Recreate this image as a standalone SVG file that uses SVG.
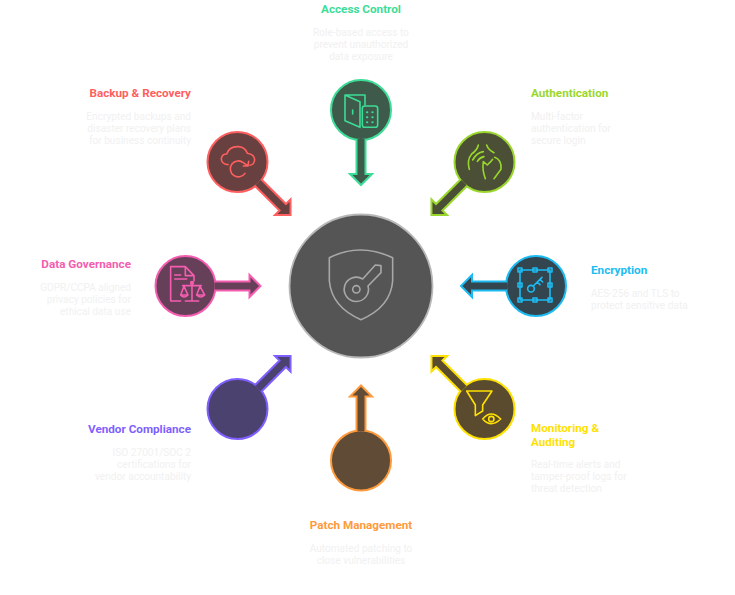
<svg xmlns="http://www.w3.org/2000/svg" width="735" height="595" viewBox="0 0 735 595">
<style>
text{font-family:Roboto,"Liberation Sans",sans-serif}
.t{font-size:11.7px;font-weight:700}
.d{font-size:10.1px;fill:#f1f1f1}
.m{text-anchor:middle}.e{text-anchor:end}
.p{stroke-width:2}
.i{fill:none;stroke-width:4.8;stroke-linecap:round;stroke-linejoin:round}
</style>
<defs>
<path id="arrow" d="M4.5 29L4.5 64L11 64L0 75L-11 64L-4.5 64L-4.5 29"/>
</defs>
<g id="hub">
<circle cx="361" cy="286" r="71.5" fill="#555" stroke="#b8b8b8" stroke-width="1.8"/>
<g transform="translate(280,205) scale(.3333)" class="i" stroke="#a8a8a8">
<path d="M148 158Q240 112 338 158L338 228Q332 306 243 344Q155 306 148 228Z"/>
<path d="M248 222L286 180L303 182L303 203L264 243A36.4 36.4 0 1 1 248 222Z"/>
<circle cx="229" cy="253" r="11"/>
</g>
</g>
<g id="access-control">
<circle cx="361" cy="110" r="30" fill="#3d5a4a" stroke="#3ddc97" class="p"/>
<g transform="translate(280,0) scale(.3333)" class="i" stroke="#3ddc97">
<path d="M195 285L255 285L255 315M195 285L195 362L240 382L240 305L195 285M218 330L218 342"/>
<rect x="247" y="318" width="46" height="64" rx="7"/>
<path d="M261 337h1M277 337h1M261 352h1M277 352h1M261 367h1M277 367h1" stroke-width="6"/>
</g>
<text class="t m" x="361" y="13" fill="#3ddc97">Access Control</text>
<text class="d m" x="361" y="36">Role-based access to</text>
<text class="d m" x="361" y="48">prevent unauthorized</text>
<text class="d m" x="361" y="60">data exposure</text>
</g>
<g id="authentication">
<circle cx="484.5" cy="162" r="30" fill="#4a4f36" stroke="#9ad72d" class="p"/>
<g transform="translate(420,80) scale(.3333)" class="i" stroke="#9ad72d">
<path d="M175 195Q172 210 155 222Q140 240 148 268M200 195Q205 210 222 218M158 240Q170 218 190 215M172 244Q180 232 192 230"/>
<path d="M196 296Q186 270 190 245L202 255L212 245L218 238M224 232Q246 240 243 268L222 296"/>
</g>
<text class="t" x="531" y="97" fill="#9ad72d">Authentication</text>
<text class="d" x="531" y="120">Multi-factor</text>
<text class="d" x="531" y="132">authentication for</text>
<text class="d" x="531" y="144">secure login</text>
</g>
<g id="encryption">
<circle cx="536" cy="286" r="30" fill="#33454f" stroke="#1cbcf2" class="p"/>
<g transform="translate(450,240) scale(.3333)" class="i" stroke="#1cbcf2">
<rect x="210" y="90" width="90" height="90"/>
<path d="M204 84h12v12h-12zM249 84h12v12h-12zM294 84h12v12h-12zM204 129h12v12h-12zM294 129h12v12h-12zM204 174h12v12h-12zM249 174h12v12h-12zM294 174h12v12h-12z"/>
<circle cx="243" cy="146" r="10"/>
<path d="M250 138L276 112M262 126L270 134M270 118L278 126"/>
</g>
<text class="t" x="591" y="274" fill="#1cbcf2">Encryption</text>
<text class="d" x="591" y="297">AES-256 and TLS to</text>
<text class="d" x="591" y="309">protect sensitive data</text>
</g>
<g id="monitoring-auditing">
<circle cx="484.5" cy="409" r="30" fill="#5a4b2e" stroke="#ffe100" class="p"/>
<g transform="translate(420,345) scale(.3333)" class="i" stroke="#ffe100">
<path d="M140 138L216 138L188 180L188 198L166 212L166 180Z"/>
<path d="M188 222Q213 192 242 222Q213 250 188 222Z"/>
<circle cx="214" cy="222" r="8"/>
</g>
<text class="t" x="531" y="432" fill="#ffe100">Monitoring &amp;</text>
<text class="t" x="531" y="446" fill="#ffe100">Auditing</text>
<text class="d" x="531" y="468">Real-time alerts and</text>
<text class="d" x="531" y="480">tamper-proof logs for</text>
<text class="d" x="531" y="492">threat detection</text>
</g>
<g id="patch-management">
<circle cx="361" cy="460.5" r="30" fill="#604b36" stroke="#ff9a3c" class="p"/>
<text class="t m" x="361" y="529" fill="#ff9a3c">Patch Management</text>
<text class="d m" x="361" y="552">Automated patching to</text>
<text class="d m" x="361" y="564">close vulnerabilities</text>
</g>
<g id="vendor-compliance">
<circle cx="237.5" cy="409" r="30" fill="#4c4270" stroke="#7f5fff" class="p"/>
<text class="t e" x="191" y="433" fill="#7f5fff">Vendor Compliance</text>
<text class="d e" x="191" y="456">ISO 27001/SOC 2</text>
<text class="d e" x="191" y="468">certifications for</text>
<text class="d e" x="191" y="480">vendor accountability</text>
</g>
<g id="data-governance">
<circle cx="185.5" cy="286" r="30" fill="#663f58" stroke="#f45db0" class="p"/>
<g transform="translate(30,245) scale(.3333)" class="i" stroke="#f45db0">
<path d="M452 168L422 168L422 65L466 65L492 92L492 108M466 65L466 92L492 92M434 90L452 90M434 102L470 102"/>
<path d="M458 122L514 122M486 112L486 168M466 168L506 168M462 124L452 150L474 150ZM510 124L500 150L524 150ZM452 150Q462 162 474 150M500 150Q512 162 524 150"/>
<circle cx="486" cy="114" r="4"/>
</g>
<text class="t e" x="131" y="268" fill="#f45db0">Data Governance</text>
<text class="d e" x="131" y="291">GDPR/CCPA aligned</text>
<text class="d e" x="131" y="303">privacy policies for</text>
<text class="d e" x="131" y="315">ethical data use</text>
</g>
<g id="backup-recovery">
<circle cx="237.5" cy="162" r="30" fill="#694040" stroke="#ff5f5f" class="p"/>
<g transform="translate(80,80) scale(.3333)" class="i" stroke="#ff5f5f">
<path d="M444 254Q424 252 424 236Q426 222 440 222Q448 198 476 200Q496 202 502 220Q524 224 524 240Q522 254 510 256"/>
<path d="M495 280A24 24 0 1 1 490 248L504 258M506 244L504 258L490 258"/>
</g>
<text class="t e" x="191" y="97" fill="#ff5f5f">Backup &amp; Recovery</text>
<text class="d e" x="191" y="120">Encrypted backups and</text>
<text class="d e" x="191" y="132">disaster recovery plans</text>
<text class="d e" x="191" y="144">for business continuity</text>
</g>
<g id="connectors" class="p">
<use href="#arrow" transform="translate(361,110)" fill="#3d5a4a" stroke="#3ddc97"/>
<use href="#arrow" transform="translate(484.5,162) rotate(45)" fill="#4a4f36" stroke="#9ad72d"/>
<use href="#arrow" transform="translate(536,286) rotate(90)" fill="#33454f" stroke="#1cbcf2"/>
<use href="#arrow" transform="translate(484.5,409) rotate(135)" fill="#5a4b2e" stroke="#ffe100"/>
<use href="#arrow" transform="translate(361,460.5) rotate(180)" fill="#604b36" stroke="#ff9a3c"/>
<use href="#arrow" transform="translate(237.5,409) rotate(225)" fill="#4c4270" stroke="#7f5fff"/>
<use href="#arrow" transform="translate(185.5,286) rotate(270)" fill="#663f58" stroke="#f45db0"/>
<use href="#arrow" transform="translate(237.5,162) rotate(315)" fill="#694040" stroke="#ff5f5f"/>
</g>
</svg>
